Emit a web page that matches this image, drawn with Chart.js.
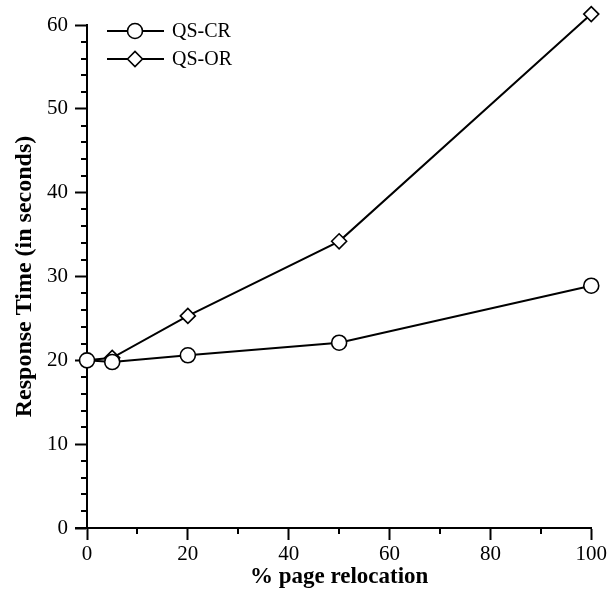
<!DOCTYPE html>
<html>
<head>
<meta charset="utf-8">
<script src="https://cdn.jsdelivr.net/npm/chart.js@4/dist/chart.umd.min.js"></script>
<style>
  body { margin: 0; background: #fff; }
  canvas { display: block; }
</style>
</head>
<body>
<canvas id="relocChart" width="609" height="592"></canvas>
<script>
const relocation = [0, 5, 20, 50, 100];
const qsCR = [20, 19.8, 20.6, 22.1, 28.9];
const qsOR = [20, 20.3, 25.3, 34.2, 61.3];
const yTicks = [0, 10, 20, 30, 40, 50, 60];
const xTicks = [0, 20, 40, 60, 80, 100];

const serif = "'Liberation Serif', 'Times New Roman', serif";

function toPoints(xs, ys) {
  return xs.map((x, i) => ({ x: x, y: ys[i] }));
}

// small ticks between the labelled ones, plus the stub of x axis left of the y axis
const minorTicks = {
  id: "minorTicks",
  afterDraw(chart) {
    const ctx = chart.ctx;
    const area = chart.chartArea;
    const xs = chart.scales.x;
    const ys = chart.scales.y;
    ctx.save();
    ctx.strokeStyle = "#000";
    ctx.lineWidth = 2;
    ctx.beginPath();
    for (let v = 2; v < 60; v += 2) {
      if (v % 10 === 0) continue;
      const py = Math.round(ys.getPixelForValue(v));
      ctx.moveTo(area.left - 6, py);
      ctx.lineTo(area.left, py);
    }
    for (let v = 10; v < 100; v += 20) {
      const px = Math.round(xs.getPixelForValue(v));
      ctx.moveTo(px, area.bottom);
      ctx.lineTo(px, area.bottom + 6);
    }
    ctx.moveTo(area.left - 12, area.bottom);
    ctx.lineTo(area.left, area.bottom);
    ctx.stroke();
    ctx.restore();
  }
};

// points above the y max are skipped by the default draw, so redraw them with a wider area
const overflowPoints = {
  id: "overflowPoints",
  afterDatasetsDraw(chart) {
    const whole = { left: 0, top: 0, right: chart.width, bottom: chart.height };
    chart.data.datasets.forEach((ds, i) => {
      chart.getDatasetMeta(i).data.forEach((pt, j) => {
        if (ds.data[j].y > chart.scales.y.max) pt.draw(chart.ctx, whole);
      });
    });
  }
};

// legend drawn as line + marker + name, top left inside the plot
const lineLegend = {
  id: "lineLegend",
  afterDraw(chart) {
    const ctx = chart.ctx;
    const rows = [
      { label: "QS-CR", style: "circle", y: 31 },
      { label: "QS-OR", style: "rectRot", y: 59 }
    ];
    ctx.save();
    rows.forEach(r => {
      ctx.strokeStyle = "#000";
      ctx.lineWidth = 2;
      ctx.beginPath();
      ctx.moveTo(107, r.y);
      ctx.lineTo(164, r.y);
      ctx.stroke();
      ctx.lineWidth = 1.6;
      ctx.fillStyle = "#fff";
      Chart.helpers.drawPoint(ctx, { pointStyle: r.style, radius: 7.5, rotation: 0, borderWidth: 1.6 }, 135, r.y);
      ctx.fillStyle = "#000";
      ctx.font = "20px " + serif;
      ctx.textAlign = "left";
      ctx.textBaseline = "middle";
      ctx.fillText(r.label, 172, r.y + 1);
    });
    ctx.restore();
  }
};

new Chart(document.getElementById("relocChart"), {
  type: "line",
  data: {
    datasets: [
      {
        label: "QS-CR",
        data: toPoints(relocation, qsCR),
        borderColor: "#000",
        borderWidth: 2,
        pointStyle: "circle",
        pointRadius: 7.5,
        pointBorderWidth: 1.6,
        pointBackgroundColor: "#fff",
        pointBorderColor: "#000",
        clip: false
      },
      {
        label: "QS-OR",
        data: toPoints(relocation, qsOR),
        borderColor: "#000",
        borderWidth: 2,
        pointStyle: "rectRot",
        pointRadius: 7.5,
        pointBorderWidth: 1.6,
        pointBackgroundColor: "#fff",
        pointBorderColor: "#000",
        clip: false
      }
    ]
  },
  options: {
    responsive: false,
    animation: false,
    layout: { padding: { top: 25, right: 17, left: 0, bottom: 0 } },
    plugins: {
      legend: { display: false },
      tooltip: { enabled: false }
    },
    scales: {
      x: {
        type: "linear",
        min: 0,
        max: 100,
        afterBuildTicks: s => { s.ticks = xTicks.map(v => ({ value: v })); },
        afterFit: s => { s.height = 64; },
        grid: { drawOnChartArea: false, tickLength: 12, tickWidth: 2, tickColor: "#000" },
        border: { color: "#000", width: 2 },
        ticks: { color: "#000", padding: 2, maxRotation: 0, font: { family: serif, size: 21 } },
        title: {
          display: true,
          text: "% page relocation",
          color: "#000",
          padding: { top: 0, bottom: 1 },
          font: { family: serif, size: 23, weight: "bold" }
        }
      },
      y: {
        type: "linear",
        min: 0,
        max: 60,
        afterBuildTicks: s => { s.ticks = yTicks.map(v => ({ value: v })); },
        afterFit: s => { s.width = 87; },
        grid: { drawOnChartArea: false, tickLength: 12, tickWidth: 2, tickColor: "#000" },
        border: { color: "#000", width: 2 },
        ticks: { color: "#000", padding: 7, font: { family: serif, size: 21 } },
        title: {
          display: true,
          text: "Response Time (in seconds)",
          color: "#000",
          padding: { top: 10, bottom: 0 },
          font: { family: serif, size: 24, weight: "bold" }
        }
      }
    }
  },
  plugins: [minorTicks, overflowPoints, lineLegend]
});
</script>
</body>
</html>
